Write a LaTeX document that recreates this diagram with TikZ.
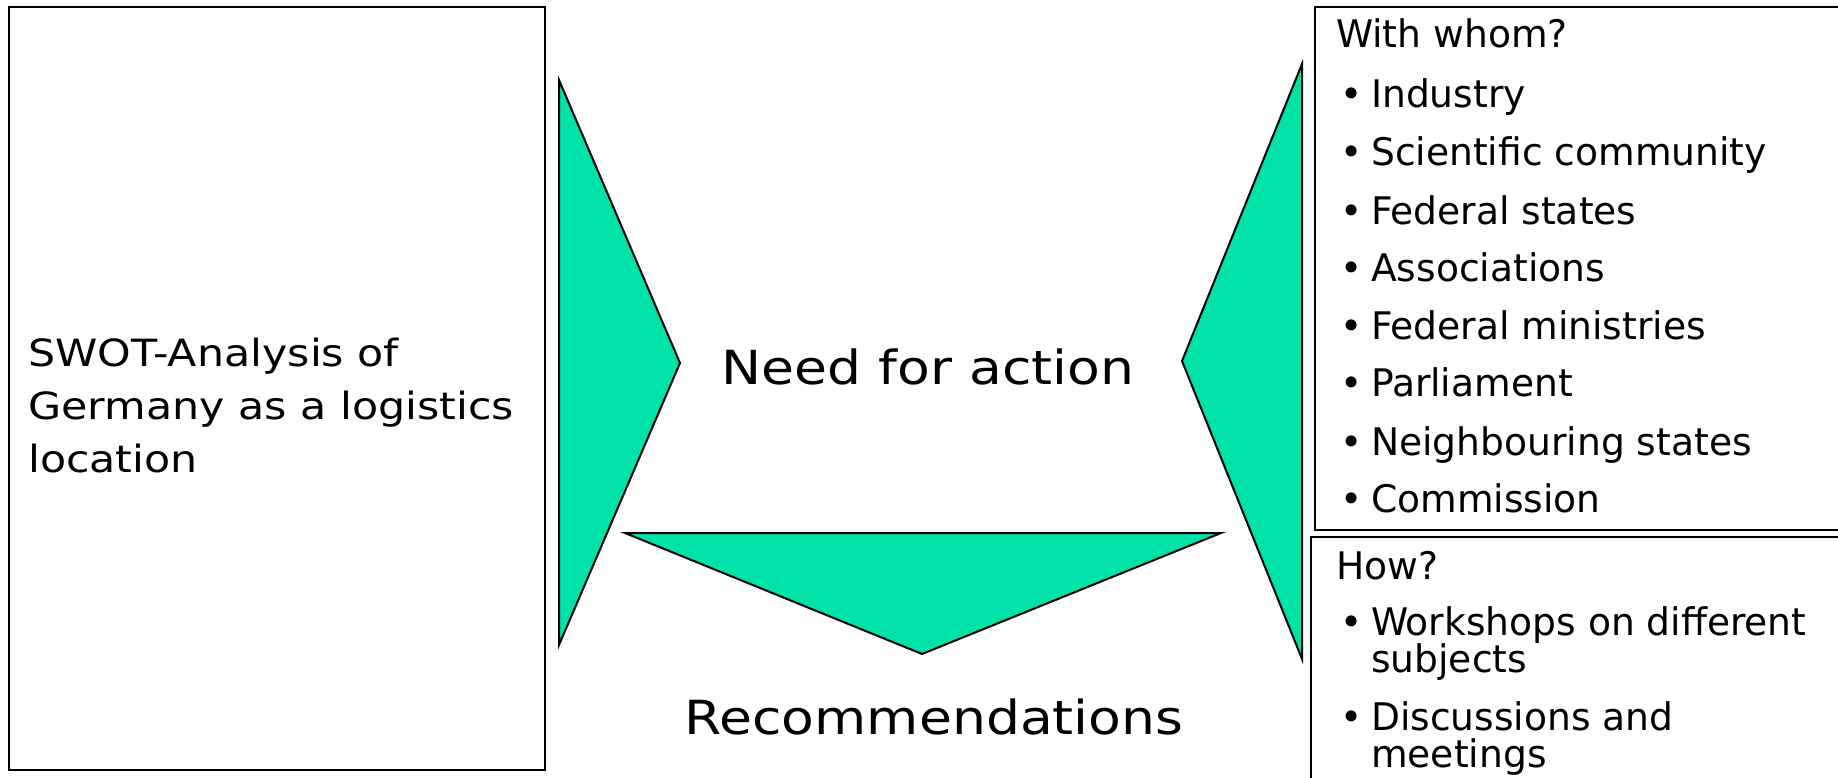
\documentclass[tikz,border=0pt]{standalone}
\usepackage{fontspec}
\setmainfont{DejaVu Sans}[FakeStretch=1.14]
\newfontfamily\condfont{DejaVu Sans Condensed}[FakeStretch=1.1]
\usetikzlibrary{positioning}
\definecolor{arrowgreen}{RGB}{0,226,170}

\begin{document}
\begin{tikzpicture}[x = 1pt, y = -1pt]
	\tikzstyle{boxStyle} = [draw, line width = 2pt, fill = white]
	\tikzstyle{wedgeStyle} = [draw, line width = 2pt, fill = arrowgreen, line join = miter]
	\tikzstyle{leftText} = [anchor = base west, inner sep = 0pt, font = \fontsize{37.5}{46}\selectfont]
	\tikzstyle{bigText} = [anchor = base, inner sep = 0pt, font = \fontsize{47}{54}\selectfont]
	\tikzstyle{listText} = [anchor = base west, inner sep = 0pt, font = \condfont\fontsize{38}{44}\selectfont]
	\tikzstyle{bulletStyle} = [anchor = base, inner sep = 0pt, font = \condfont\fontsize{38}{44}\selectfont]
	\useasboundingbox (0,0) rectangle (1838,778);
	\fill[white] (0,0) rectangle (1838,778);

	% left box
	\draw[boxStyle] (9,7) rectangle (545,770);
	\node[leftText] (swot1) at (28,366) {SWOT-Analysis of};
	\node[leftText] (swot2) at (28,419) {Germany as a logistics};
	\node[leftText] (swot3) at (28,472) {location};

	% wedges
	\coordinate (lwTop) at (559,80);
	\coordinate (lwBot) at (559,645);
	\coordinate (lwTip) at (680,363);
	\draw[wedgeStyle] (lwTop) -- (lwTip) -- (lwBot) -- cycle;
	\coordinate (rwTop) at (1302,64);
	\coordinate (rwBot) at (1302,659);
	\coordinate (rwTip) at (1182,361);
	\draw[wedgeStyle] (rwTop) -- (rwTip) -- (rwBot) -- cycle;
	\coordinate (bwLeft) at (625,533);
	\coordinate (bwRight) at (1221,533);
	\coordinate (bwTip) at (922,654);
	\draw[wedgeStyle] (bwLeft) -- (bwRight) -- (bwTip) -- cycle;

	\node[bigText] (need) at (928,384) {Need for action};
	\node[bigText] (recom) at (934,734) {Recommendations};

	% right boxes
	\draw[boxStyle] (1315,7) rectangle (1845,530);
	\draw[boxStyle] (1311,537) rectangle (1845,790);

	\node[listText] (whom) at (1336,48) {With whom?};
	\node[bulletStyle] (b1) at (1352,108) {•};
	\node[listText] (i1) at (1371,108) {Industry};
	\node[bulletStyle] (b2) at (1352,166) {•};
	\node[listText] (i2) at (1371,166) {Scientific community};
	\node[bulletStyle] (b3) at (1352,224) {•};
	\node[listText] (i3) at (1371,224) {Federal states};
	\node[bulletStyle] (b4) at (1352,281) {•};
	\node[listText] (i4) at (1371,281) {Associations};
	\node[bulletStyle] (b5) at (1352,339) {•};
	\node[listText] (i5) at (1371,339) {Federal ministries};
	\node[bulletStyle] (b6) at (1352,396) {•};
	\node[listText] (i6) at (1371,396) {Parliament};
	\node[bulletStyle] (b7) at (1352,455) {•};
	\node[listText] (i7) at (1371,455) {Neighbouring states};
	\node[bulletStyle] (b8) at (1352,512) {•};
	\node[listText] (i8) at (1371,512) {Commission};

	\node[listText] (how) at (1336,579) {How?};
	\node[bulletStyle] (h1) at (1352,635) {•};
	\node[listText] (j1) at (1371,635) {Workshops on different};
	\node[listText] (j1b) at (1371,672) {subjects};
	\node[bulletStyle] (h2) at (1352,730) {•};
	\node[listText] (j2) at (1371,730) {Discussions and};
	\node[listText] (j2b) at (1371,767) {meetings};
\end{tikzpicture}
\end{document}
